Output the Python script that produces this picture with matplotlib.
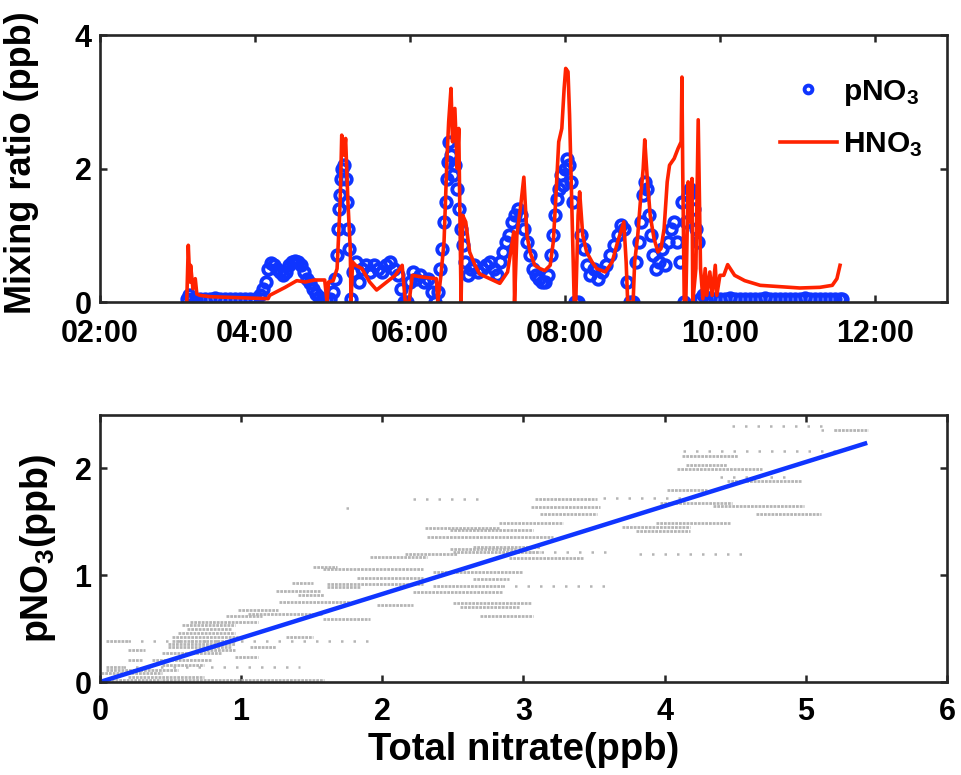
import matplotlib
matplotlib.use("Agg")
import matplotlib.pyplot as plt
import matplotlib.dates as mdates
import numpy as np
import pandas as pd

# ---------------- data ----------------
# HNO3 time series (decimal hours of day, ppb)
hno3_hours = [3.12, 3.14, 3.16, 3.17, 3.20, 3.23, 3.25, 3.29, 3.42, 3.68, 3.94, 4.17, 4.19, 4.39,
              4.54, 4.65, 4.77, 4.90, 4.93, 4.95, 5.01, 5.06, 5.10, 5.12, 5.15, 5.17, 5.20, 5.23,
              5.24, 5.26, 5.30, 5.38, 5.48, 5.57, 5.68, 5.81, 5.90, 5.94, 5.99, 6.03, 6.13, 6.26,
              6.34, 6.36, 6.40, 6.44, 6.48, 6.50, 6.53, 6.55, 6.58, 6.61, 6.63, 6.66, 6.68, 6.72,
              6.77, 6.84, 6.90, 7.03, 7.16, 7.26, 7.32, 7.34, 7.35, 7.38, 7.43, 7.47, 7.51, 7.55,
              7.61, 7.68, 7.74, 7.81, 7.85, 7.88, 7.92, 7.96, 7.99, 8.01, 8.04, 8.06, 8.09, 8.12,
              8.14, 8.17, 8.19, 8.23, 8.28, 8.35, 8.41, 8.52, 8.61, 8.68, 8.76, 8.79, 8.81, 8.88,
              8.90, 8.94, 8.98, 9.01, 9.03, 9.06, 9.10, 9.15, 9.20, 9.24, 9.28, 9.32, 9.35, 9.41,
              9.46, 9.50, 9.51, 9.52, 9.54, 9.56, 9.59, 9.61, 9.64, 9.65, 9.69, 9.72, 9.75, 9.78,
              9.81, 9.83, 9.87, 9.90, 9.94, 9.96, 10.00, 10.05, 10.10, 10.19, 10.32, 10.52, 10.77,
              11.03, 11.29, 11.45, 11.51, 11.55]
hno3_ppb = [0.00, 0.85, 0.30, 0.55, 0.20, 0.35, 0.12, 0.10, 0.08, 0.07, 0.06, 0.05, 0.10, 0.22,
            0.32, 0.30, 0.33, 0.33, 0.00, 0.30, 0.32, 0.50, 1.50, 2.50, 2.20, 2.45, 1.50, 0.80,
            0.00, 0.60, 0.55, 0.50, 0.30, 0.18, 0.28, 0.40, 0.55, 0.00, 0.00, 0.40, 0.38, 0.36,
            0.35, 0.00, 0.40, 0.90, 2.20, 2.70, 3.20, 2.40, 2.90, 2.00, 2.60, 0.00, 1.30, 1.20,
            0.75, 0.55, 0.42, 0.35, 0.28, 0.45, 0.90, 1.05, 0.00, 1.00, 1.45, 1.87, 1.00, 0.75,
            0.55, 0.50, 0.47, 0.55, 0.90, 1.50, 2.40, 2.60, 3.20, 3.50, 3.45, 2.80, 1.40, 0.00,
            0.00, 1.30, 1.65, 1.00, 0.75, 0.60, 0.50, 0.45, 0.60, 0.90, 1.20, 0.60, 0.00, 0.00,
            0.60, 1.00, 1.60, 2.00, 2.43, 1.90, 1.30, 0.95, 0.75, 0.80, 1.10, 1.80, 2.05, 2.15,
            2.30, 2.40, 3.37, 2.00, 0.00, 0.00, 1.80, 1.20, 1.85, 0.00, 0.50, 2.73, 0.50, 0.05,
            0.50, 0.10, 0.45, 0.10, 0.55, 0.10, 0.40, 0.40, 0.56, 0.40, 0.32, 0.25, 0.23,
            0.21, 0.22, 0.25, 0.35, 0.55]

# pNO3 time series (decimal hours of day, ppb)
pno3_hours = [3.12, 3.15, 3.19, 3.24, 3.29, 3.35, 3.42, 3.48, 3.55, 3.61, 3.68, 3.74, 3.81, 3.87,
              3.94, 4.00, 4.06, 4.10, 4.14, 4.17, 4.21, 4.25, 4.28, 4.32, 4.36, 4.40, 4.44, 4.48,
              4.52, 4.55, 4.59, 4.63, 4.67, 4.71, 4.75, 4.79, 4.83, 4.86, 4.92, 4.97, 5.01, 5.03,
              5.06, 5.07, 5.08, 5.10, 5.11, 5.12, 5.15, 5.17, 5.19, 5.20, 5.21, 5.24, 5.26, 5.30,
              5.34, 5.38, 5.43, 5.48, 5.54, 5.59, 5.64, 5.69, 5.74, 5.79, 5.85, 5.88, 5.92, 5.96,
              6.00, 6.04, 6.08, 6.13, 6.18, 6.23, 6.28, 6.32, 6.36, 6.39, 6.41, 6.44, 6.46, 6.48,
              6.49, 6.50, 6.53, 6.55, 6.58, 6.61, 6.63, 6.66, 6.68, 6.71, 6.75, 6.79, 6.83, 6.88,
              6.93, 6.98, 7.03, 7.08, 7.12, 7.16, 7.20, 7.24, 7.28, 7.32, 7.35, 7.39, 7.43, 7.47,
              7.51, 7.55, 7.59, 7.63, 7.66, 7.70, 7.74, 7.78, 7.82, 7.85, 7.87, 7.90, 7.92, 7.95,
              7.97, 8.00, 8.03, 8.05, 8.08, 8.10, 8.13, 8.17, 8.21, 8.25, 8.28, 8.32, 8.37, 8.43,
              8.48, 8.53, 8.58, 8.63, 8.68, 8.72, 8.76, 8.80, 8.84, 8.88, 8.92, 8.95, 8.98, 9.01,
              9.03, 9.06, 9.08, 9.11, 9.14, 9.17, 9.21, 9.25, 9.29, 9.33, 9.37, 9.41, 9.45, 9.48,
              9.51, 9.54, 9.56, 9.59, 9.61, 9.64, 9.66, 9.69, 9.72, 9.74, 9.78, 9.82, 9.87, 9.94,
              10.00, 10.06, 10.13, 10.19, 10.26, 10.32, 10.39, 10.45, 10.52, 10.58, 10.65, 10.71,
              10.77, 10.84, 10.90, 10.97, 11.03, 11.10, 11.16, 11.23, 11.29, 11.35, 11.42, 11.48,
              11.55, 11.57]
pno3_ppb = [0.05, 0.10, 0.05, 0.03, 0.05, 0.04, 0.05, 0.06, 0.05, 0.04, 0.05, 0.05, 0.04, 0.05,
            0.04, 0.05, 0.10, 0.20, 0.30, 0.50, 0.58, 0.55, 0.50, 0.45, 0.40, 0.45, 0.55, 0.60,
            0.62, 0.60, 0.55, 0.45, 0.35, 0.28, 0.20, 0.12, 0.08, 0.05, 0.03, 0.05, 0.15, 0.35,
            0.70, 1.10, 1.40, 1.60, 1.85, 2.00, 2.05, 1.85, 1.50, 1.10, 0.80, 0.05, 0.45, 0.60,
            0.30, 0.50, 0.55, 0.45, 0.55, 0.50, 0.45, 0.55, 0.60, 0.50, 0.40, 0.20, 0.00, 0.00,
            0.30, 0.45, 0.35, 0.40, 0.30, 0.35, 0.15, 0.00, 0.15, 0.50, 0.80, 1.20, 1.50, 1.85,
            2.10, 2.40, 2.20, 1.90, 2.05, 1.70, 1.40, 1.10, 0.85, 0.60, 0.40, 0.50, 0.55, 0.45,
            0.50, 0.55, 0.60, 0.50, 0.40, 0.60, 0.75, 0.90, 1.00, 1.20, 1.30, 1.40, 1.30, 1.10,
            0.90, 0.70, 0.50, 0.40, 0.35, 0.30, 0.30, 0.40, 0.70, 1.00, 1.30, 1.55, 1.70, 1.90,
            1.75, 2.00, 2.15, 2.05, 1.80, 1.50, 0.00, 0.00, 1.00, 0.80, 0.55, 0.40, 0.50, 0.35,
            0.45, 0.55, 0.70, 0.85, 1.00, 1.15, 1.10, 0.30, 0.00, 0.00, 0.60, 0.90, 1.20, 1.60,
            1.80, 1.70, 1.30, 1.00, 0.70, 0.50, 0.60, 0.80, 0.55, 0.90, 1.10, 1.20, 0.90, 0.60,
            1.50, 0.00, 1.20, 1.60, 1.70, 1.65, 1.40, 1.10, 0.90, 0.05, 0.10, 0.05, 0.06, 0.05,
            0.04, 0.05, 0.06, 0.05, 0.04, 0.05, 0.05, 0.04, 0.05, 0.06, 0.05, 0.04,
            0.05, 0.05, 0.04, 0.05, 0.05, 0.06, 0.05, 0.04, 0.05, 0.05, 0.04, 0.05,
            0.05, 0.04]

# pNO3 vs total nitrate scatter, read as horizontal runs of points (ppb)
dense_y = [2.36, 2.12, 2.03, 1.99, 1.88, 1.80, 1.71, 1.68, 1.65, 1.64, 1.57, 1.57, 1.49, 1.49,
           1.45, 1.44, 1.42, 1.41, 1.36, 1.26, 1.25, 1.22, 1.20, 1.17, 1.16, 1.08, 1.06, 1.03,
           0.97, 0.96, 0.93, 0.92, 0.90, 0.89, 0.85, 0.84, 0.81, 0.75, 0.74, 0.72, 0.70, 0.67,
           0.64, 0.62, 0.62, 0.59, 0.56, 0.53, 0.50, 0.46, 0.42, 0.42, 0.38, 0.38, 0.36, 0.33,
           0.33, 0.30, 0.30, 0.27, 0.23, 0.21, 0.21, 0.16, 0.14, 0.11, 0.08, 0.05, 0.02, 0.02]
dense_x0 = [5.20, 4.12, 4.15, 4.09, 4.44, 4.02, 3.08, 3.97, 4.34, 3.05, 3.12, 4.65, 2.83, 3.94,
            3.70, 2.30, 2.48, 3.80, 2.32, 2.64, 2.48, 2.50, 2.16, 1.91, 2.90, 1.51, 1.58, 2.36,
            1.82, 2.64, 1.36, 1.61, 2.36, 1.61, 1.25, 2.22, 1.40, 1.27, 2.50, 1.96, 2.55, 0.98,
            1.05, 0.89, 2.69, 1.58, 0.64, 0.58, 0.62, 0.55, 0.51, 1.32, 0.04, 0.51, 0.48, 0.48,
            1.06, 0.20, 0.67, 0.44, 0.96, 0.20, 0.37, 0.44, 0.04, 0.04, 0.01, 0.20, 0.44, 0.00]
dense_x1 = [5.44, 4.52, 4.44, 4.69, 4.97, 4.30, 3.52, 4.48, 4.99, 3.54, 3.52, 5.11, 3.28, 4.46,
            4.18, 2.83, 3.07, 4.18, 3.21, 3.12, 2.95, 3.12, 2.53, 2.32, 3.42, 1.68, 2.29, 3.00,
            2.29, 2.90, 1.51, 2.29, 2.85, 1.84, 1.56, 2.85, 1.59, 1.77, 3.05, 2.22, 2.97, 1.26,
            1.57, 1.15, 3.07, 1.91, 1.12, 0.96, 0.93, 0.96, 0.98, 1.51, 0.20, 0.96, 0.96, 0.93,
            1.25, 0.32, 0.96, 0.86, 1.12, 0.30, 0.79, 0.74, 0.16, 0.55, 0.44, 0.74, 1.59, 0.43]
sparse_y = [2.40, 2.36, 2.16, 1.92, 1.72, 1.71, 1.63, 1.22, 1.20, 0.90, 0.38, 0.14]
sparse_x0 = [4.48, 5.11, 4.13, 4.39, 3.56, 2.22, 1.74, 2.95, 3.82, 2.85, 0.20, 0.16]
sparse_x1 = [5.13, 5.20, 5.22, 4.89, 4.16, 2.72, 1.82, 3.59, 4.58, 3.59, 1.95, 1.42]

# linear fit of pNO3 against total nitrate
fit_x = [0.0, 5.42]
fit_slope = 0.412

# ---------------- style ----------------
plt.rcParams['font.family'] = ['Liberation Sans', 'DejaVu Sans']
plt.rcParams['font.weight'] = 'bold'
plt.rcParams['axes.labelweight'] = 'bold'
plt.rcParams['mathtext.fontset'] = 'custom'
plt.rcParams['mathtext.rm'] = 'Liberation Sans:bold'
plt.rcParams['mathtext.it'] = 'Liberation Sans:bold'
plt.rcParams['mathtext.bf'] = 'Liberation Sans:bold'
plt.rcParams['mathtext.default'] = 'rm'

BLUE = '#0f35ff'
RED = '#ff2200'
GREY = '#b5b5b5'
SPINE = '#262626'
TICK_FS = 22
LABEL_FS = 26

fig = plt.figure(figsize=(9.61, 7.75), dpi=100)
ax1 = fig.add_axes([0.104, 0.6103, 0.8814, 0.3445])
ax2 = fig.add_axes([0.104, 0.12, 0.8814, 0.3445])

base = pd.Timestamp('2000-01-01')
t_h = (base + pd.to_timedelta(np.array(hno3_hours), unit='h')).to_pydatetime()
t_p = (base + pd.to_timedelta(np.array(pno3_hours), unit='h')).to_pydatetime()

ax1.plot(t_p, pno3_ppb, linestyle='none', marker='o', markersize=7.5,
         markerfacecolor='none', markeredgecolor=BLUE, markeredgewidth=2.8, label='pNO$_3$')
ax1.plot(t_h, hno3_ppb, color=RED, lw=2.6, label='HNO$_3$')

ax1.set_xlim(base + pd.Timedelta(hours=2), base + pd.Timedelta(hours=12.93))
ax1.set_ylim(0, 4)
ax1.set_yticks([0, 2, 4])
ax1.xaxis.set_major_locator(mdates.HourLocator(byhour=range(2, 13, 2)))
ax1.xaxis.set_major_formatter(mdates.DateFormatter('%H:%M'))
ax1.set_ylabel('Mixing ratio (ppb)', fontsize=LABEL_FS, labelpad=2)
ax1.yaxis.set_label_coords(-0.072, 0.52)

leg = ax1.legend(loc='upper right', bbox_to_anchor=(0.985, 0.885), frameon=False,
                 fontsize=21.5, handlelength=1.9, handletextpad=0.2, labelspacing=0.75,
                 markerscale=0.75, borderaxespad=0.0)

# bottom scatter
ax2.hlines(dense_y, dense_x0, dense_x1, colors=GREY, linestyles=[(0, (1.0, 0.35))], lw=2.0)
ax2.hlines(sparse_y, sparse_x0, sparse_x1, colors=GREY, linestyles=[(0, (1.0, 4.0))], lw=1.8)
fx = np.array(fit_x)
ax2.plot(fx, fit_slope * fx, color=BLUE, lw=3.2)
ax2.set_xlim(0, 6)
ax2.set_ylim(0, 2.5)
ax2.set_xticks(range(0, 7))
ax2.set_yticks([0, 1, 2])
ax2.set_xlabel('Total nitrate(ppb)', fontsize=27.5, labelpad=4)
ax2.set_ylabel('pNO$_3$(ppb)', fontsize=27, labelpad=12)

for ax in (ax1, ax2):
    for s in ax.spines.values():
        s.set_linewidth(1.9)
        s.set_color(SPINE)
    ax.tick_params(direction='in', length=5, width=1.8, top=True, right=True,
                   labelsize=TICK_FS, colors=SPINE)
    ax.tick_params(axis='x', pad=10.5)
    ax.tick_params(axis='y', pad=6)
    for lab in ax.get_xticklabels() + ax.get_yticklabels():
        lab.set_fontweight('bold')
        lab.set_color('black')
ax1.tick_params(axis='x', pad=12)

fig.savefig('out.png', dpi=100)
